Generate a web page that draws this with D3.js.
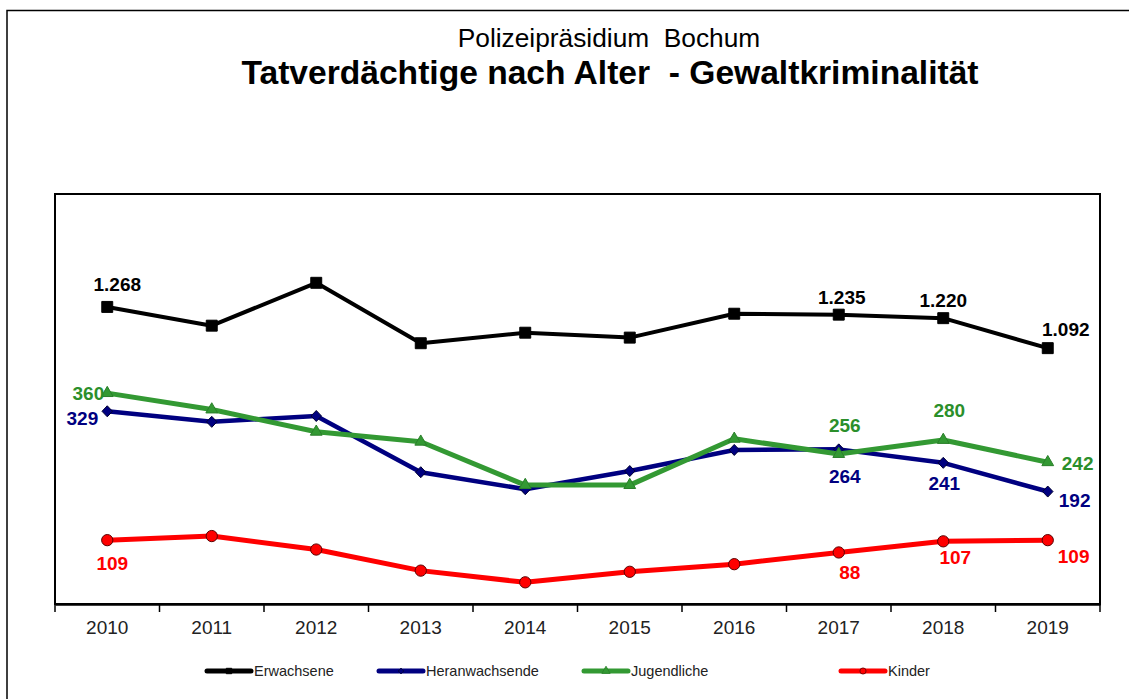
<!DOCTYPE html>
<html><head><meta charset="utf-8">
<script src="https://cdn.jsdelivr.net/npm/d3@7"></script>
<style>
body{margin:0;background:#fff}
svg{display:block;font-family:"Liberation Sans",Arial,sans-serif}
</style>
</head><body>
<svg id="chart" width="1129" height="699"></svg>
<script>
// ---- data ----
const years = ["2010","2011","2012","2013","2014","2015","2016","2017","2018","2019"];
const erwachsene     = [1268,1188,1371,1113,1158,1137,1239,1235,1220,1092];
const heranwachsende = [329,311,321,225,196,227,263,264,241,192];
const jugendliche    = [360,332,294,277,203,203,282,256,280,242];
const kinder         = [109,116,93,57,37,55,68,88,107,109];
const seriesNames = ["Erwachsene","Heranwachsende","Jugendliche","Kinder"];
const labelledIdx = [0,7,8,9];
const subtitle = "Polizeipräsidium  Bochum";
const title = "Tatverdächtige nach Alter  - Gewaltkriminalität";

// ---- styles / layout ----
const W = 1129, H = 699;
const plot = {left:55, right:1100, top:194, bottom:604};
const de = d3.formatLocale({decimal:",", thousands:".", grouping:[3], currency:["","€"]});
const fmt = de.format(",d");

const svg = d3.select("#chart");
svg.append("rect").attr("width",W).attr("height",H).attr("fill","#fff");
// outer frame
svg.append("rect").attr("x",7).attr("y",10.5).attr("width",1300).attr("height",900)
  .attr("fill","none").attr("stroke","#000").attr("stroke-width",1.5);

svg.append("text").attr("x",609).attr("y",47).attr("text-anchor","middle")
  .attr("font-size",26.3).attr("fill","#000").style("white-space","pre").text(subtitle);
svg.append("text").attr("x",610).attr("y",84).attr("text-anchor","middle")
  .attr("font-size",33.6).attr("font-weight","bold").attr("fill","#000").style("white-space","pre").text(title);

const x = d3.scaleBand().domain(years).range([plot.left, plot.right]).padding(0);
const yLeft = d3.scaleLinear().domain([0,700]).range([plot.bottom, plot.top]);
const yRight = d3.scaleLinear().domain([0,1750]).range([plot.bottom, plot.top]);
const cx = d => x(d) + x.bandwidth()/2;

// plot area border
svg.append("rect").attr("x",plot.left).attr("y",plot.top)
  .attr("width",plot.right-plot.left).attr("height",plot.bottom-plot.top)
  .attr("fill","none").attr("stroke","#000").attr("stroke-width",2);

// x axis (labels at centers, ticks between categories)
const axis = svg.append("g").attr("transform",`translate(0,${plot.bottom})`)
  .call(d3.axisBottom(x).tickSize(0).tickPadding(23));
axis.select(".domain").attr("stroke","#000").attr("stroke-width",2.5);
axis.selectAll("text").attr("font-size",19).attr("fill","#222")
  .attr("font-family","Liberation Sans, Arial, sans-serif").attr("dy","0.35em");
const edges = years.map(d => x(d)).concat([x.range()[1]]);
svg.append("g").selectAll("line").data(edges).join("line")
  .attr("x1",d=>d).attr("x2",d=>d).attr("y1",plot.bottom).attr("y2",plot.bottom+8)
  .attr("stroke","#000").attr("stroke-width",1.5);

const diamond = {draw(ctx,size){const r=Math.sqrt(size)/2*1.0; ctx.moveTo(0,-r*1.05);ctx.lineTo(r,0);ctx.lineTo(0,r*1.05);ctx.lineTo(-r,0);ctx.closePath();}};

const series = [
  {name:seriesNames[0], values:erwachsene, y:yRight, color:"#000000", text:"#000000", width:4,
   sym:d3.symbolSquare, size:120, fill:"#000", stroke:"#000",
   lab:[[10,-16,"middle"],[3,-11,"middle"],[0,-11,"middle"],[18,-12,"middle"]]},
  {name:seriesNames[1], values:heranwachsende, y:yLeft, color:"#000080", text:"#000080", width:4.5,
   sym:diamond, size:110, fill:"#000080", stroke:"#000030",
   lab:[[-9,14,"end"],[6,34,"middle"],[1,27,"middle"],[11,15,"start"]]},
  {name:seriesNames[2], values:jugendliche, y:yLeft, color:"#339933", text:"#2b8f2b", width:5,
   sym:d3.symbolTriangle, size:60, fill:"#339933", stroke:"#2a7f2a",
   lab:[[-3,7,"end"],[6,-22,"middle"],[6,-23,"middle"],[14,8,"start"]]},
  {name:seriesNames[3], values:kinder, y:yLeft, color:"#ff0000", text:"#ff0000", width:5,
   sym:d3.symbolCircle, size:100, fill:"#ff0000", stroke:"#5a0000",
   lab:[[5,30,"middle"],[11,27,"middle"],[12,23,"middle"],[10,23,"start"]]}
];

series.forEach(s => {
  const pts = years.map((yr,i) => ({yr, v:s.values[i], i}));
  const g = svg.append("g");
  g.append("path").datum(pts)
    .attr("d", d3.line().x(d=>cx(d.yr)).y(d=>s.y(d.v)))
    .attr("fill","none").attr("stroke",s.color).attr("stroke-width",s.width)
    .attr("stroke-linejoin","round");
  g.selectAll("path.m").data(pts).join("path").attr("class","m")
    .attr("d", d3.symbol(s.sym, s.size)())
    .attr("transform", d=>`translate(${cx(d.yr)},${s.y(d.v)})`)
    .attr("fill",s.fill).attr("stroke",s.stroke).attr("stroke-width",1);
  g.selectAll("text").data(labelledIdx.map((idx,k)=>({p:pts[idx], o:s.lab[k]}))).join("text")
    .attr("x", d=>cx(d.p.yr)+d.o[0]).attr("y", d=>s.y(d.p.v)+d.o[1])
    .attr("text-anchor", d=>d.o[2])
    .attr("font-size",19).attr("font-weight","bold").attr("fill",s.text)
    .text(d=>fmt(d.p.v));
});

// legend
const legX = [207, 379, 584, 841];
const lg = svg.append("g");
series.forEach((s,k) => {
  const gx = legX[k], gy = 671;
  lg.append("line").attr("x1",gx).attr("x2",gx+44).attr("y1",gy).attr("y2",gy)
    .attr("stroke",s.color).attr("stroke-width",5).attr("stroke-linecap","round");
  lg.append("path").attr("d", d3.symbol(s.sym, 30)())
    .attr("transform",`translate(${gx+22},${gy})`)
    .attr("fill",s.fill).attr("stroke",s.stroke).attr("stroke-width",0.8);
  lg.append("text").attr("x",gx+47).attr("y",gy).attr("dy","0.35em")
    .attr("font-size",14.5).attr("fill","#222").text(s.name);
});
</script>
</body></html>
